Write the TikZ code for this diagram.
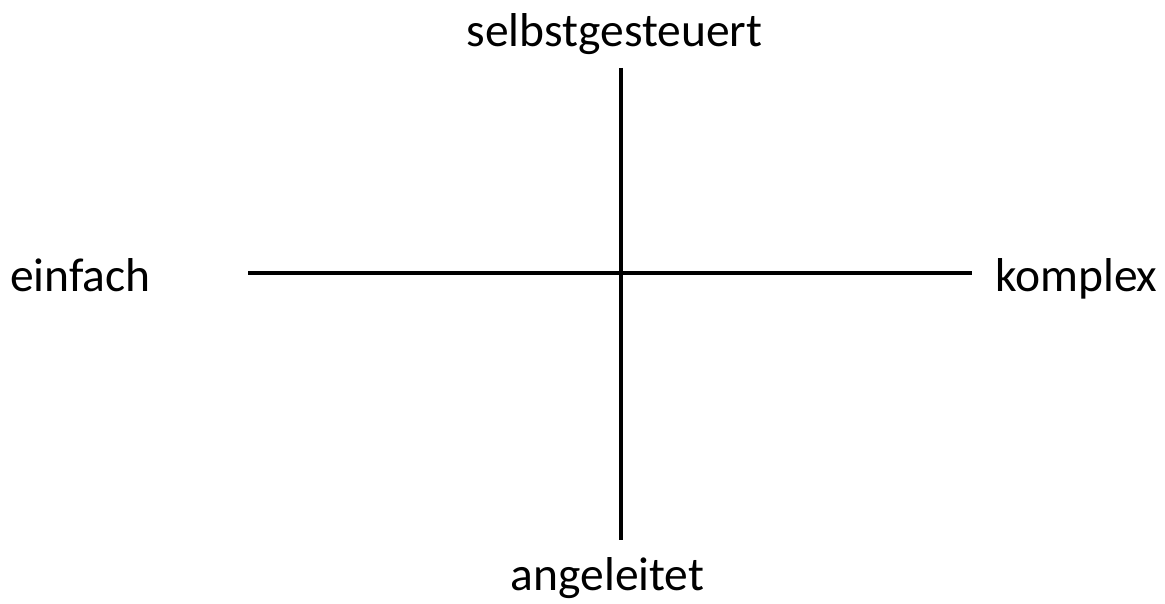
\documentclass[tikz,border=0pt]{standalone}
\usepackage{fontspec}
\setmainfont{Carlito}
\begin{document}
\begin{tikzpicture}[x=1pt,y=1pt,
  lbl/.style={inner sep=0pt,font=\fontsize{47.5}{56}\selectfont},
  axis/.style={line width=3.5pt}]
\useasboundingbox (0,0) rectangle (1165,603);
\coordinate (top) at (621,535);
\coordinate (bot) at (621,63);
\coordinate (lft) at (248,330);
\coordinate (rgt) at (972,330);
\draw[axis] (top) -- (bot);
\draw[axis] (lft) -- (rgt);
\node[lbl,anchor=base] (s) at (614.5,556) {selbstgesteuert};
\node[lbl,anchor=base] (a) at (607.5,13) {angeleitet};
\node[lbl,anchor=base west] (e) at (10,311) {einfach};
\node[lbl,anchor=base west] (k) at (995,311) {komplex};
\end{tikzpicture}
\end{document}
